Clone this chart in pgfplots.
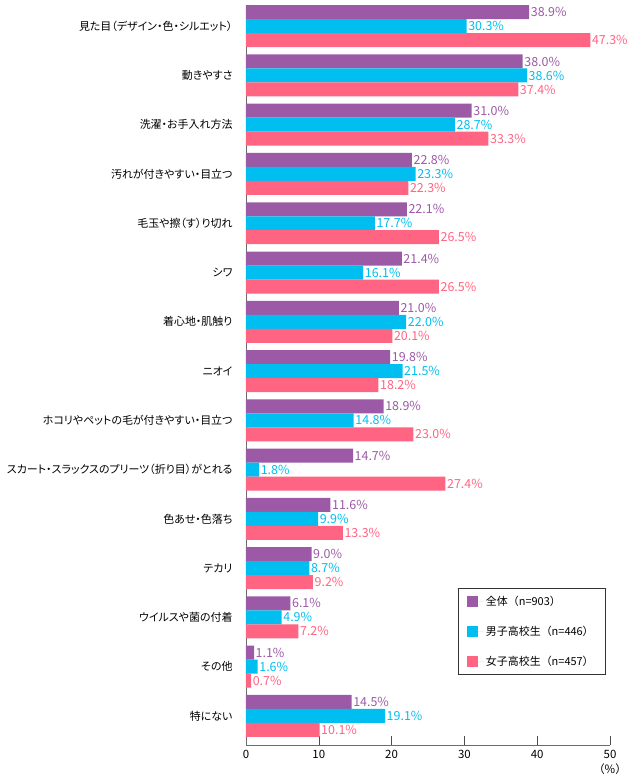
\documentclass[border=0pt]{standalone}
\usepackage{pgfplots}
\pgfplotsset{compat=1.18}
\usepackage{fontspec}
\setmainfont{Noto Sans CJK JP}
\newfontfamily\catfont[RawFeature=+palt]{Noto Sans CJK JP}
\definecolor{cAll}{HTML}{9B59A6}
\definecolor{cBoy}{HTML}{00BEF0}
\definecolor{cGirl}{HTML}{FF6482}
\begin{document}
\begin{tikzpicture}
\begin{axis}[
  scale only axis, width=364bp, height=740bp,
  xmin=0, xmax=50, ymin=-0.59, ymax=14.43,
  axis x line=bottom, axis y line=left,
  axis line style={draw=gray!85!black, -},
  /pgf/number format/assume math mode=true,
  xtick={0,10,...,50},
  xticklabels={0,10,20,30,40,{50\\（\%）}},
  xticklabel style={align=center, font=\fontsize{11.5}{15}\selectfont, yshift=-2bp},
  tick align=inside, major tick length=9bp,
  xtick style={draw=gray!60!black},
  ytick={0,...,14},
  % categories listed from the bottom row upwards
  yticklabels={
    特にない,
    その他,
    ウイルスや菌の付着,
    テカリ,
    色あせ・色落ち,
    スカート・スラックスのプリーツ（折り目）がとれる,
    ホコリやペットの毛が付きやすい・目立つ,
    ニオイ,
    着心地・肌触り,
    シワ,
    毛玉や擦（す）り切れ,
    汚れが付きやすい・目立つ,
    洗濯・お手入れ方法,
    動きやすさ,
    見た目（デザイン・色・シルエット）},
  yticklabel style={font=\catfont\fontsize{11}{12}\selectfont, xshift=-1bp},
  ytick style={draw=none},
  clip=false,
  xbar, bar width=0.284, bar shift=0,
  point meta=x,
  nodes near coords={\pgfmathprintnumber[fixed,fixed zerofill,precision=1,assume math mode=true]{\pgfplotspointmeta}\%},
  every node near coord/.append style={font=\fontsize{12.5}{14}\selectfont, anchor=west, inner xsep=1.5bp},
  legend image code/.code={\fill[#1] (0bp,-5.5bp) rectangle (11bp,5.5bp); \path (0bp,0bp) -- (17bp,0bp);},
  legend style={at={(0.986,0.095)}, anchor=south east, draw=black!80,
    font=\fontsize{11}{13}\selectfont, row sep=15bp,
    inner xsep=9bp, inner ysep=6bp,
    /tikz/every even column/.append style={column sep=0bp}},
  legend cell align=left,
]
% each group: top bar at row+0.284, middle at row, bottom at row-0.284
\addplot[fill=cAll, draw=none,
  every node near coord/.append style={text=cAll}]
  coordinates {(38.9,14.284) (38.0,13.284) (31.0,12.284) (22.8,11.284) (22.1,10.284)
               (21.4,9.284) (21.0,8.284) (19.8,7.284) (18.9,6.284) (14.7,5.284)
               (11.6,4.284) (9.0,3.284) (6.1,2.284) (1.1,1.284) (14.5,0.284)};
\addlegendentry{全体（n=903）}
\addplot[fill=cBoy, draw=none,
  every node near coord/.append style={text=cBoy}]
  coordinates {(30.3,14) (38.6,13) (28.7,12) (23.3,11) (17.7,10) (16.1,9) (22.0,8) (21.5,7)
               (14.8,6) (1.8,5) (9.9,4) (8.7,3) (4.9,2) (1.6,1) (19.1,0)};
\addlegendentry{男子高校生（n=446）}
\addplot[fill=cGirl, draw=none,
  every node near coord/.append style={text=cGirl}]
  coordinates {(47.3,13.716) (37.4,12.716) (33.3,11.716) (22.3,10.716) (26.5,9.716)
               (26.5,8.716) (20.1,7.716) (18.2,6.716) (23.0,5.716) (27.4,4.716)
               (13.3,3.716) (9.2,2.716) (7.2,1.716) (0.7,0.716) (10.1,-0.284)};
\addlegendentry{女子高校生（n=457）}
\end{axis}
\pgfresetboundingbox
\path[use as bounding box] (-246bp,-38bp) rectangle (388bp,745bp);
\end{tikzpicture}
\end{document}
